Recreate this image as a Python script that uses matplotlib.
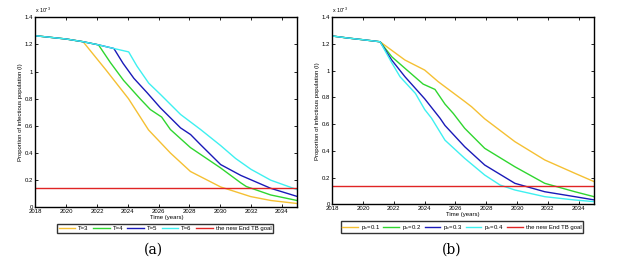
import matplotlib
matplotlib.use("Agg")
import matplotlib.pyplot as plt
from matplotlib.ticker import FuncFormatter, MultipleLocator

plt.rcParams['font.family'] = ['Liberation Sans', 'DejaVu Sans']
plt.rcParams['mathtext.fontset'] = 'custom'
plt.rcParams['mathtext.rm'] = 'Liberation Sans'
plt.rcParams['mathtext.it'] = 'Liberation Sans'

# ---------- data (proportion, x 1e-3) ----------
# panel (a): implementation duration T
t3_x = [2018, 2019, 2020, 2021.1, 2022.6, 2024.05, 2025.35, 2026.77, 2028.07, 2030.03, 2031.98, 2033.3, 2035]
t3_y = [1.264, 1.252, 1.24, 1.22, 1.01, 0.80, 0.57, 0.40, 0.264, 0.15, 0.079, 0.05, 0.028]

t4_x = [2018, 2019, 2020, 2021.1, 2022.1, 2022.87, 2023.73, 2024.8, 2025.47, 2026.2, 2026.77, 2028.07, 2030.03, 2031.34, 2031.7, 2033.28, 2035]
t4_y = [1.264, 1.252, 1.24, 1.22, 1.197, 1.067, 0.935, 0.80, 0.72, 0.665, 0.573, 0.44, 0.29, 0.18, 0.153, 0.091, 0.05]

t5_x = [2018, 2019, 2020, 2021.1, 2022.1, 2023.1, 2023.7, 2024.4, 2025.26, 2026.12, 2027.43, 2028.08, 2028.73, 2030.03, 2031.34, 2033.28, 2035]
t5_y = [1.264, 1.252, 1.24, 1.22, 1.197, 1.17, 1.06, 0.95, 0.844, 0.733, 0.585, 0.536, 0.461, 0.315, 0.235, 0.14, 0.08]

t6_x = [2018, 2019, 2020, 2021.1, 2022.1, 2023.1, 2024.06, 2024.6, 2025.36, 2026.12, 2027.43, 2028.73, 2030.03, 2031.0, 2032.0, 2033.28, 2035]
t6_y = [1.264, 1.252, 1.24, 1.22, 1.197, 1.17, 1.145, 1.04, 0.915, 0.832, 0.684, 0.573, 0.455, 0.36, 0.28, 0.2, 0.13]

# panel (b): parameter p_c
p1_x = [2018, 2019, 2020, 2021.1, 2022.72, 2024.0, 2024.88, 2025.32, 2026.6, 2027.05, 2027.9, 2029.86, 2031.8, 2033.76, 2035]
p1_y = [1.26, 1.245, 1.232, 1.217, 1.08, 1.005, 0.918, 0.88, 0.77, 0.73, 0.64, 0.469, 0.332, 0.232, 0.17]

p2_x = [2018, 2019, 2020, 2021.1, 2021.86, 2022.72, 2023.9, 2024.67, 2025.32, 2025.86, 2026.6, 2027.9, 2029.86, 2031.8, 2033.76, 2035]
p2_y = [1.26, 1.245, 1.232, 1.217, 1.105, 1.018, 0.90, 0.86, 0.75, 0.68, 0.569, 0.419, 0.281, 0.157, 0.094, 0.057]

p3_x = [2018, 2019, 2020, 2021.1, 2021.86, 2022.72, 2024.0, 2025.0, 2025.32, 2026.6, 2027.9, 2029.86, 2031.8, 2033.76, 2035]
p3_y = [1.26, 1.245, 1.232, 1.217, 1.08, 0.955, 0.79, 0.644, 0.59, 0.431, 0.294, 0.157, 0.094, 0.057, 0.033]

p4_x = [2018, 2019, 2020, 2021.1, 2021.86, 2022.4, 2023.4, 2024.0, 2024.45, 2025.32, 2026.6, 2027.9, 2028.9, 2029.86, 2031.8, 2033.76, 2035]
p4_y = [1.26, 1.245, 1.232, 1.217, 1.06, 0.955, 0.83, 0.71, 0.644, 0.48, 0.344, 0.219, 0.144, 0.107, 0.057, 0.032, 0.02]

goal = 0.14
xlim = (2018, 2035)

labels_a = ['T=3', 'T=4', 'T=5', 'T=6', 'the new End TB goal']
labels_b = [r'p$_c$=0.1', r'p$_c$=0.2', r'p$_c$=0.3', r'p$_c$=0.4', 'the new End TB goal']

colors = ['#f5c033', '#2fd62f', '#1a1ab8', '#3ef0f0', '#e02424']

series_a = [(t3_x, t3_y), (t4_x, t4_y), (t5_x, t5_y), (t6_x, t6_y)]
series_b = [(p1_x, p1_y), (p2_x, p2_y), (p3_x, p3_y), (p4_x, p4_y)]

fig = plt.figure(figsize=(6.25, 2.77), dpi=100)
ax_a = fig.add_axes([0.0565, 0.2516, 0.419, 0.686])
ax_b = fig.add_axes([0.5317, 0.2625, 0.4187, 0.675])

FS = 4.3

def style(ax, series, labels, legend_center, hl, cs):
    handles = []
    for (x, y), c, lab in zip(series, colors, labels):
        h, = ax.plot(x, y, color=c, lw=1.0, label=lab)
        handles.append(h)
    h, = ax.plot(list(xlim), [goal, goal], color=colors[4], lw=1.0, label=labels[4])
    handles.append(h)
    ax.set_xlim(*xlim)
    ax.set_ylim(0, 1.4)
    ax.xaxis.set_major_locator(MultipleLocator(2))
    ax.yaxis.set_major_locator(MultipleLocator(0.2))
    ax.yaxis.set_major_formatter(FuncFormatter(lambda v, p: '%g' % round(v, 3)))
    ax.tick_params(direction='in', top=True, right=True, length=2.5, width=0.6,
                   labelsize=FS, pad=1.5)
    for s in ax.spines.values():
        s.set_linewidth(1.0)
    ax.set_xlabel('Time (years)', fontsize=FS, labelpad=0.5)
    ax.set_ylabel('Proportion of infectious population (I)', fontsize=FS, labelpad=1.5)
    ax.text(0.0, 1.012, r'x 10$^{-3}$', transform=ax.transAxes, fontsize=FS - 0.5,
            ha='left', va='bottom')
    leg = fig.legend(handles=handles, loc='center', bbox_to_anchor=legend_center,
                     ncol=5, fontsize=FS, frameon=True, fancybox=False,
                     handlelength=hl, handletextpad=0.5, columnspacing=cs,
                     borderpad=0.25, borderaxespad=0)
    leg.get_frame().set_edgecolor('black')
    leg.get_frame().set_linewidth(1.0)

style(ax_a, series_a, labels_a, (0.264, 0.175), 2.8, 0.7)
style(ax_b, series_b, labels_b, (0.739, 0.18), 2.6, 0.6)

fig.text(0.245, 0.097, '(a)', fontsize=10, family='DejaVu Serif', ha='center', va='center')
fig.text(0.723, 0.100, '(b)', fontsize=10, family='DejaVu Serif', ha='center', va='center')

fig.savefig('out.png', dpi=100)
